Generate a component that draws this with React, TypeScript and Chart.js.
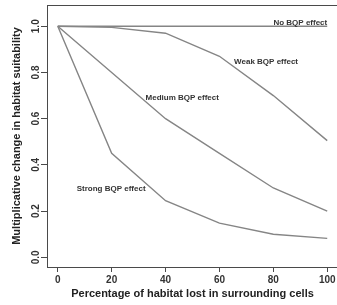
import React, { useEffect, useRef } from "react";
import { Chart, registerables } from "chart.js";

Chart.register(...registerables);

const habitatLost = [0, 20, 40, 60, 80, 100];
const noEffect = [1.0, 1.0, 1.0, 1.0, 1.0, 1.0];
const weakEffect = [1.0, 0.995, 0.97, 0.87, 0.7, 0.505];
const mediumEffect = [1.0, 0.8, 0.6, 0.45, 0.3, 0.2];
const strongEffect = [1.0, 0.45, 0.245, 0.148, 0.1, 0.082];

const xTicks = [0, 20, 40, 60, 80, 100];
const yTicks = [0, 0.2, 0.4, 0.6, 0.8, 1.0];

const seriesLabels = ["No BQP effect", "Weak BQP effect", "Medium BQP effect", "Strong BQP effect"];
// label anchor points in data units (x, y) and alignment
const labelAnchors = [
  { x: 100, y: 1.015, align: "right" },
  { x: 77.3, y: 0.848, align: "center" },
  { x: 46.2, y: 0.692, align: "center" },
  { x: 19.8, y: 0.297, align: "center" },
];

const xTitle = "Percentage of habitat lost in surrounding cells";
const yTitle = "Multiplicative change in habitat suitability";

const LINE = "#858585";
const AXIS = "#4a4a4a";
const TEXT = "#333333";
const FONT = "'Liberation Sans', Arial, sans-serif";

export default function App() {
  const ref = useRef<HTMLCanvasElement | null>(null);

  useEffect(() => {
    if (!ref.current) return;
    const mk = (data: number[]) => ({
      data: habitatLost.map((x, i) => ({ x, y: data[i] })),
      borderColor: LINE,
      borderWidth: 1.4,
      pointRadius: 0,
      tension: 0,
      fill: false,
    });

    const boxPlugin = {
      id: "boxAndLabels",
      afterDatasetsDraw(chart: any) {
        const { ctx, chartArea, scales } = chart;
        ctx.save();
        ctx.strokeStyle = AXIS;
        ctx.lineWidth = 1;
        ctx.strokeRect(
          Math.round(chartArea.left) + 0.5,
          Math.round(chartArea.top) + 0.5,
          Math.round(chartArea.right - chartArea.left),
          Math.round(chartArea.bottom - chartArea.top)
        );
        ctx.fillStyle = TEXT;
        ctx.font = `bold 8px ${FONT}`;
        ctx.textBaseline = "middle";
        labelAnchors.forEach((a, i) => {
          ctx.textAlign = a.align as CanvasTextAlign;
          ctx.fillText(seriesLabels[i], scales.x.getPixelForValue(a.x), scales.y.getPixelForValue(a.y));
        });
        ctx.restore();
      },
    };

    const chart = new Chart(ref.current, {
      type: "line",
      data: {
        datasets: [mk(noEffect), mk(weakEffect), mk(mediumEffect), mk(strongEffect)],
      },
      options: {
        animation: false,
        responsive: false,
        maintainAspectRatio: false,
        layout: { padding: { top: 5, right: 7, left: 0, bottom: 0 } },
        plugins: { legend: { display: false }, tooltip: { enabled: false } },
        scales: {
          x: {
            type: "linear",
            min: -4,
            max: 104,
            afterBuildTicks: (s: any) => {
              s.ticks = xTicks.map((v) => ({ value: v }));
            },
            afterFit: (s: any) => {
              s.height = 38;
            },
            border: { display: false },
            grid: { drawOnChartArea: false, drawTicks: true, tickLength: 5, color: AXIS, tickColor: AXIS },
            ticks: {
              color: TEXT,
              font: { family: FONT, size: 10, weight: "bold" },
              padding: 2,
              maxRotation: 0,
              autoSkip: false,
            },
            title: {
              display: true,
              text: xTitle,
              color: "#222",
              font: { family: FONT, size: 11, weight: "bold" },
              padding: { top: 0, bottom: 4 },
            },
          },
          y: {
            type: "linear",
            min: -0.042,
            max: 1.092,
            afterBuildTicks: (s: any) => {
              s.ticks = yTicks.map((v) => ({ value: v }));
            },
            afterFit: (s: any) => {
              s.width = 47;
            },
            border: { display: false },
            grid: { drawOnChartArea: false, drawTicks: true, tickLength: 6, color: AXIS, tickColor: AXIS },
            ticks: {
              color: TEXT,
              font: { family: FONT, size: 10, weight: "bold" },
              padding: -2,
              minRotation: 90,
              maxRotation: 90,
              crossAlign: "center",
              autoSkip: false,
              callback: (v: any) => Number(v).toFixed(1),
            },
            title: {
              display: true,
              text: yTitle,
              color: "#222",
              font: { family: FONT, size: 11, weight: "bold" },
              padding: { top: 10, bottom: 0 },
            },
          },
        },
      },
      plugins: [boxPlugin],
    } as any);
    return () => chart.destroy();
  }, []);

  return (
    <div style={{ position: "fixed", left: 0, top: 0, width: 337, height: 305, overflow: "hidden", background: "#fff" }}>
      <canvas ref={ref} width={345} height={305} style={{ width: 345, height: 305, display: "block" }} />
    </div>
  );
}
